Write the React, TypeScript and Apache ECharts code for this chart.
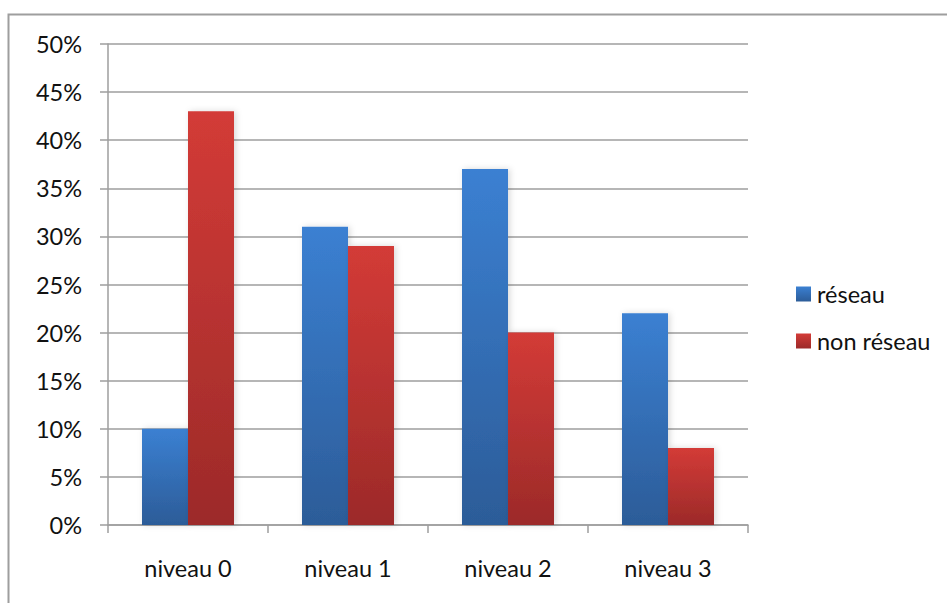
import React, { useEffect, useRef } from "react";
import * as echarts from "echarts";

const categories = ["niveau 0", "niveau 1", "niveau 2", "niveau 3"];
const reseau = [10, 31, 37, 22];
const nonReseau = [43, 29, 20, 8];
const seriesNames = ["réseau", "non réseau"];

const FONT = "Lato";

export default function App() {
  const ref = useRef<HTMLDivElement>(null);
  useEffect(() => {
    document.body.style.margin = "0";
    const chart = echarts.init(ref.current!, null, { renderer: "svg" });
    const blue = new echarts.graphic.LinearGradient(0, 0, 0, 1, [
      { offset: 0, color: "#3b80d2" },
      { offset: 1, color: "#2c5c98" },
    ]);
    const red = new echarts.graphic.LinearGradient(0, 0, 0, 1, [
      { offset: 0, color: "#d33b37" },
      { offset: 1, color: "#9c2a29" },
    ]);
    chart.setOption({
      animation: false,
      backgroundColor: "#ffffff",
      graphic: [
        {
          type: "rect",
          shape: { x: 8.5, y: 14.5, width: 1000, height: 700 },
          style: { fill: "none", stroke: "#9e9e9e", lineWidth: 2 },
          silent: true,
        },
      ],
      grid: { left: 108, right: 199, top: 44, bottom: 78, containLabel: false },
      legend: {
        orient: "vertical",
        left: 791,
        top: 277,
        itemWidth: 15,
        itemHeight: 15,
        itemGap: 23,
        icon: "rect",
        textStyle: { fontFamily: FONT, fontSize: 23.5, color: "#111", lineHeight: 24, padding: [0, 0, 0, 1] },
        data: seriesNames,
      },
      xAxis: {
        type: "category",
        data: categories,
        axisLine: { lineStyle: { color: "#9e9e9e", width: 1.5 } },
        axisTick: { show: true, length: 8, lineStyle: { color: "#9e9e9e", width: 1.5 } },
        axisLabel: { fontFamily: FONT, fontSize: 23.5, color: "#111", margin: 31 },
      },
      yAxis: {
        type: "value",
        min: 0,
        max: 50,
        interval: 5,
        axisLine: { show: true, lineStyle: { color: "#9e9e9e", width: 1.5 } },
        axisTick: { show: true, length: 8, lineStyle: { color: "#9e9e9e", width: 1.5 } },
        axisLabel: { fontFamily: FONT, fontSize: 23.5, color: "#111", margin: 26, formatter: "{value}%" },
        splitLine: { lineStyle: { color: "#9e9e9e", width: 1.5 } },
      },
      series: [
        {
          name: seriesNames[0],
          type: "bar",
          data: reseau,
          barGap: "0%",
          barCategoryGap: "42.5%",
          itemStyle: { color: blue, shadowBlur: 6, shadowColor: "rgba(0,0,0,0.15)", shadowOffsetX: 2 },
        },
        {
          name: seriesNames[1],
          type: "bar",
          data: nonReseau,
          barGap: "0%",
          barCategoryGap: "42.5%",
          itemStyle: { color: red, shadowBlur: 6, shadowColor: "rgba(0,0,0,0.15)", shadowOffsetX: 2 },
        },
      ],
    });
    return () => chart.dispose();
  }, []);
  return <div ref={ref} style={{ width: 947, height: 603 }} />;
}
